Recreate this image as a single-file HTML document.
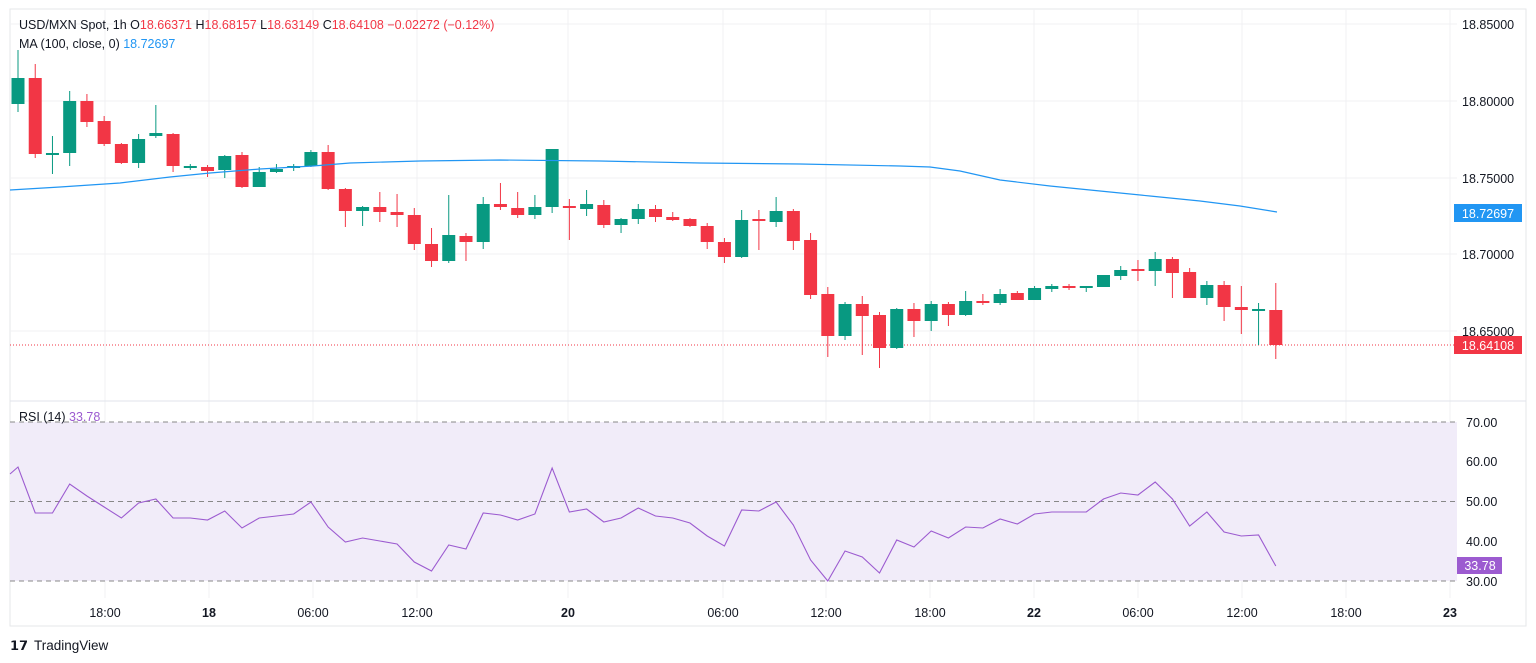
<!DOCTYPE html>
<html><head><meta charset="utf-8"><style>
body{margin:0;background:#fff;width:1536px;height:663px;overflow:hidden;font-family:"Liberation Sans",sans-serif}
svg{display:block}
</style></head><body>
<svg id="s" width="1536" height="663" xmlns="http://www.w3.org/2000/svg" font-family="Liberation Sans, sans-serif">
<rect x="10" y="9" width="1516" height="617" fill="#fff" stroke="#e6e7ea"/>
<g id="grid" stroke="#f0f1f3" stroke-width="1"></g>
<rect x="10" y="422" width="1447" height="159" fill="#f1ecf9"/>
<g stroke="#888" stroke-dasharray="5,4" stroke-width="1">
<line x1="10" y1="422" x2="1457" y2="422"/><line x1="10" y1="501.5" x2="1457" y2="501.5"/><line x1="10" y1="581" x2="1457" y2="581"/>
</g>
<line x1="10" y1="401" x2="1526" y2="401" stroke="#e0e3eb"/>
<line x1="10" y1="345" x2="1457" y2="345" stroke="#f23645" stroke-dasharray="1,2"/>
<g id="c"></g>
<polyline id="ma" fill="none" stroke="#2196f3" stroke-width="1.2"/>
<polyline id="rsi" fill="none" stroke="#9c5bd0" stroke-width="1.1"/>
<g font-size="12.5" fill="#131722" text-anchor="start">
<text x="1462" y="29">18.85000</text><text x="1462" y="106">18.80000</text><text x="1462" y="183">18.75000</text><text x="1462" y="259">18.70000</text><text x="1462" y="336">18.65000</text>
<text x="1466" y="427">70.00</text><text x="1466" y="466">60.00</text><text x="1466" y="506">50.00</text><text x="1466" y="546">40.00</text><text x="1466" y="586">30.00</text>
</g>
<rect x="1454" y="204" width="68" height="18" fill="#2196f3"/><text x="1488" y="218" font-size="12.5" fill="#fff" text-anchor="middle">18.72697</text>
<rect x="1454" y="336" width="68" height="18" fill="#f23645"/><text x="1488" y="350" font-size="12.5" fill="#fff" text-anchor="middle">18.64108</text>
<rect x="1457" y="557" width="45" height="17" fill="#9c5bd0"/><text x="1480" y="570" font-size="12.5" fill="#fff" text-anchor="middle">33.78</text>
<g id="tl" font-size="12.5" fill="#131722" text-anchor="middle"></g>
<text x="19" y="29" font-size="12.5" fill="#131722">USD/MXN Spot, 1h  O<tspan fill="#f23645">18.66371</tspan>  H<tspan fill="#f23645">18.68157</tspan>  L<tspan fill="#f23645">18.63149</tspan>  C<tspan fill="#f23645">18.64108</tspan>  <tspan fill="#f23645">−0.02272 (−0.12%)</tspan></text>
<text x="19" y="48" font-size="12.5" fill="#131722">MA (100, close, 0)  <tspan fill="#2196f3">18.72697</tspan></text>
<text x="19" y="421" font-size="12.5" fill="#131722">RSI (14)  <tspan fill="#9c5bd0">33.78</tspan></text>
<text x="10" y="650" font-size="13" font-weight="bold" fill="#131722">𝟭𝟳</text>
<text x="34" y="650" font-size="13.5" fill="#131722">TradingView</text>
</svg>
<script>
var N="http://www.w3.org/2000/svg";
function el(t,a,p){var e=document.createElementNS(N,t);for(var k in a)e.setAttribute(k,a[k]);(p||document.getElementById('c')).appendChild(e);return e;}
var g=document.getElementById('grid');
[24,101,178,254,331,461,541].forEach(function(y){el('line',{x1:10,y1:y,x2:1457,y2:y},g)});
var T=[[105,'18:00',0],[209,'18',1],[313,'06:00',0],[417,'12:00',0],[568,'20',1],[723,'06:00',0],[826,'12:00',0],[930,'18:00',0],[1034,'22',1],[1138,'06:00',0],[1242,'12:00',0],[1346,'18:00',0],[1450,'23',1]];
var tl=document.getElementById('tl');
T.forEach(function(t){el('line',{x1:t[0],y1:9,x2:t[0],y2:401},g);el('line',{x1:t[0],y1:401,x2:t[0],y2:598},g);var e=el('text',{x:t[0],y:617},tl);if(t[2])e.setAttribute('font-weight','bold');e.textContent=t[1];});
var SP=17.23;
var C=[[1,78,104,50,112],[0,78,154,64,158],[1,153,155,136,174],[1,101,153,91,166],[0,101,122,94,127],[0,121,144,116,146],[0,144,163,143,164],[1,139,163,134,168],[1,133,136,105,138],[0,134,166,133,172],[1,166,168,164,170],[0,167,171,165,177],[1,156,170,155,178],[0,155,187,152,188],[1,172,187,167,187],[1,169,172,164,173],[1,166,168,164,171],[1,152,166,150,167],[0,152,189,145,190],[0,189,211,188,227],[1,207,211,206,226],[0,207,212,192,222],[0,212,215,194,227],[0,215,244,208,250],[0,244,261,228,267],[1,235,261,195,263],[0,236,242,233,261],[1,204,242,197,249],
[0,204,207,183,210],[0,208,215,192,218],[1,207,215,195,219],[1,149,207,149,213],[0,206,208,199,240],[1,204,209,190,216],[0,205,225,200,228],[1,219,225,218,233],[1,209,219,204,224],[0,209,217,205,222],[0,217,220,212,221],[0,219,226,218,227],[0,226,242,223,249],[0,242,257,238,263],[1,220,257,210,258],[0,219,221,210,250],[1,211,222,197,227],[0,211,241,209,250],[0,240,295,233,299],[0,294,336,287,357],[1,304,336,302,340],[0,304,316,296,355],[0,315,348,312,368],[1,309,348,308,349],[0,309,321,303,337],[1,304,321,301,331],[0,304,315,302,326],[1,301,315,291,316],[0,301,303,294,305],
[1,294,303,289,305],[0,293,300,291,300],[1,288,300,286,300],[1,286,289,284,292],[0,286,288,284,290],[1,286,288,286,292],[1,275,287,275,287],[1,270,276,266,280],[0,269,271,260,281],[1,259,271,252,286],[0,259,273,257,298],[0,272,298,268,298],[1,285,298,281,305],[0,285,307,281,321],[0,307,310,286,334],[1,309,311,303,345],[0,310,345,283,359]];
C.forEach(function(c,i){var x=18+i*SP;var col=c[0]?'#089981':'#f23645';
el('line',{x1:x,y1:c[3],x2:x,y2:c[4],stroke:col,'stroke-width':1});
el('rect',{x:x-6.5,y:c[1],width:13,height:Math.max(c[2]-c[1],1.5),fill:col});});
var ma=[[10,190],[60,187],[120,183],[170,177],[210,173],[260,169],[313,166],[350,163],[420,161],[500,160],[600,161],[700,163],[800,164],[900,166],[930,167],[960,171],[1000,180],[1050,186],[1100,191],[1150,196],[1200,201],[1240,206],[1277,212]];
document.getElementById('ma').setAttribute('points',ma.map(function(p){return p.join(',')}).join(' '));
var R=[467,513,513,484,496,507,518,503,499,518,518,520,511,528,518,516,514,502,527,542,538,541,544,562,571,545,549,513,515,520,514,468,512,509,522,518,508,516,518,523,536,546,510,511,502,525,560,581,551,557,573,540,547,531,538,527,528,519,524,514,512,512,512,499,493,495,482,499,526,512,532,536,535,566];
var pts=['10,474'];R.forEach(function(y,i){pts.push((18+i*SP)+','+y)});
document.getElementById('rsi').setAttribute('points',pts.join(' '));
</script>
</body></html>
